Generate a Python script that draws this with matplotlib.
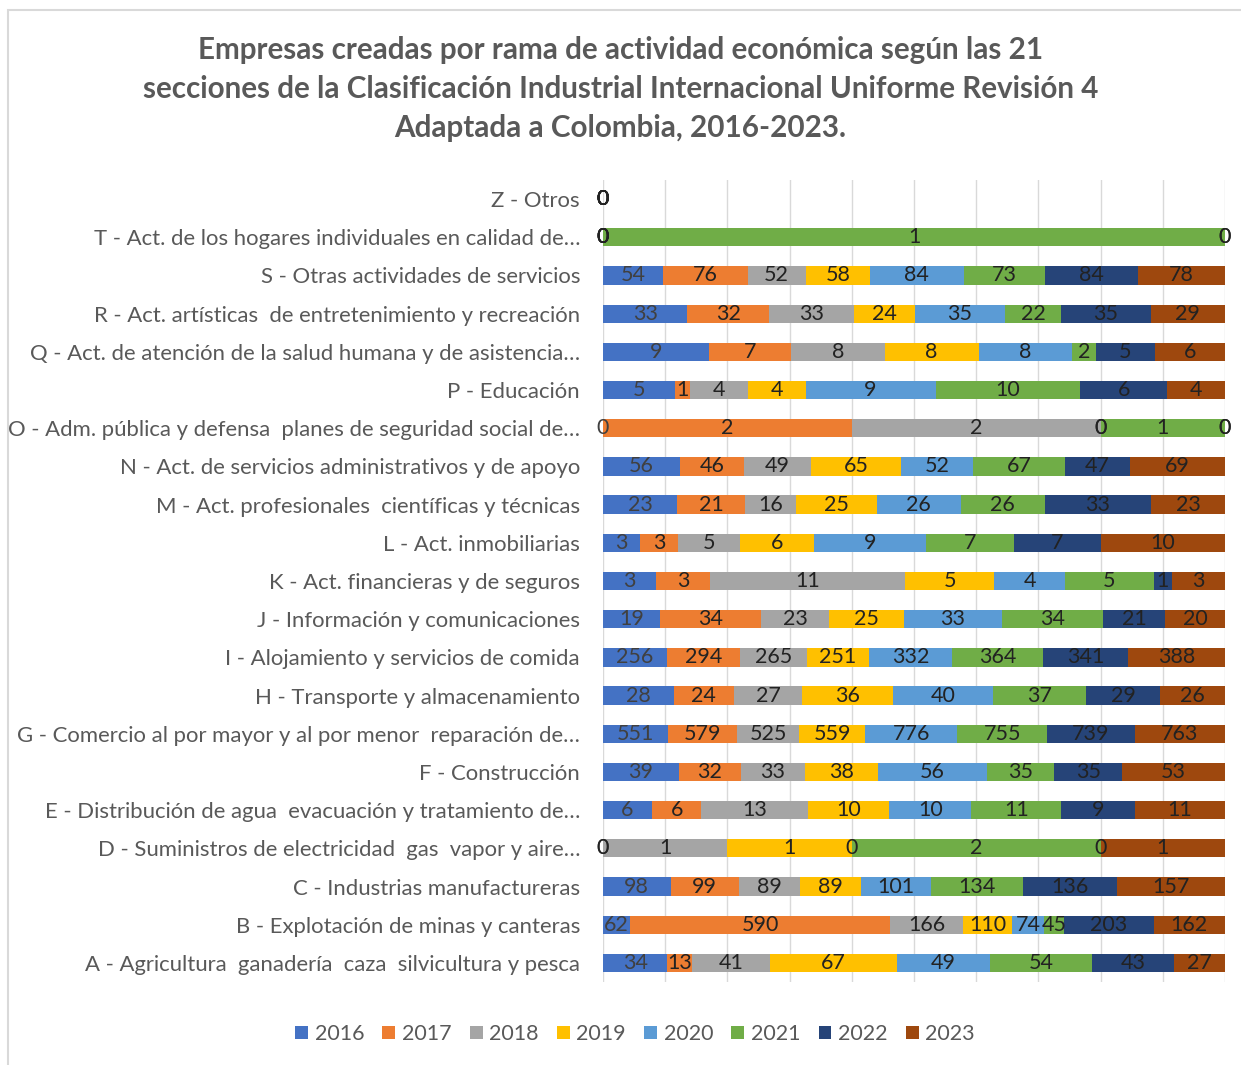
import numpy as np
import matplotlib
matplotlib.use("Agg")
import matplotlib.pyplot as plt
from matplotlib.patches import Rectangle

# categories, bottom (A) to top (Z)
categories = [
    "A - Agricultura  ganadería  caza  silvicultura y pesca",
    "B - Explotación de minas y canteras",
    "C - Industrias manufactureras",
    "D - Suministros de electricidad  gas  vapor y aire…",
    "E - Distribución de agua  evacuación y tratamiento de…",
    "F - Construcción",
    "G - Comercio al por mayor y al por menor  reparación de…",
    "H - Transporte y almacenamiento",
    "I - Alojamiento y servicios de comida",
    "J - Información y comunicaciones",
    "K - Act. financieras y de seguros",
    "L - Act. inmobiliarias",
    "M - Act. profesionales  científicas y técnicas",
    "N - Act. de servicios administrativos y de apoyo",
    "O - Adm. pública y defensa  planes de seguridad social de…",
    "P - Educación",
    "Q - Act. de atención de la salud humana y de asistencia…",
    "R - Act. artísticas  de entretenimiento y recreación",
    "S - Otras actividades de servicios",
    "T - Act. de los hogares individuales en calidad de…",
    "Z - Otros",
]

years = ["2016", "2017", "2018", "2019", "2020", "2021", "2022", "2023"]

v2016 = [34, 62, 98, 0, 6, 39, 551, 28, 256, 19, 3, 3, 23, 56, 0, 5, 9, 33, 54, 0, 0]
v2017 = [13, 590, 99, 0, 6, 32, 579, 24, 294, 34, 3, 3, 21, 46, 2, 1, 7, 32, 76, 0, 0]
v2018 = [41, 166, 89, 1, 13, 33, 525, 27, 265, 23, 11, 5, 16, 49, 2, 4, 8, 33, 52, 0, 0]
v2019 = [67, 110, 89, 1, 10, 38, 559, 36, 251, 25, 5, 6, 25, 65, 0, 4, 8, 24, 58, 0, 0]
v2020 = [49, 74, 101, 0, 10, 56, 776, 40, 332, 33, 4, 9, 26, 52, 0, 9, 8, 35, 84, 0, 0]
v2021 = [54, 45, 134, 2, 11, 35, 755, 37, 364, 34, 5, 7, 26, 67, 1, 10, 2, 22, 73, 1, 0]
v2022 = [43, 203, 136, 0, 9, 35, 739, 29, 341, 21, 1, 7, 33, 47, 0, 6, 5, 35, 84, 0, 0]
v2023 = [27, 162, 157, 1, 11, 53, 763, 26, 388, 20, 3, 10, 23, 69, 0, 4, 6, 29, 78, 0, 0]

colors = ["#4472C4", "#ED7D31", "#A5A5A5", "#FFC000",
          "#5B9BD5", "#70AD47", "#264478", "#9E480E"]

series = [v2016, v2017, v2018, v2019, v2020, v2021, v2022, v2023]
data = np.array(series, dtype=float)
totals = data.sum(axis=0)
safe = np.where(totals == 0, 1, totals)
pct = data / safe * 100

plt.rcParams['font.family'] = ['Lato', 'DejaVu Sans']

fig = plt.figure(figsize=(12.41, 10.65), dpi=100)
# outer chart frame
fig.patches.append(Rectangle((8 / 1241, -0.01), 1.02, 1 - 10 / 1065 + 0.01,
                             transform=fig.transFigure, fill=False,
                             edgecolor="#D9D9D9", linewidth=1.5))

ax = fig.add_axes([603 / 1241, 1 - 982 / 1065, 622 / 1241, 802 / 1065])

y = np.arange(len(categories))
left = np.zeros(len(categories))
for i, yr in enumerate(years):
    ax.barh(y, pct[i], left=left, height=0.48, color=colors[i], label=yr, zorder=2)
    for j in range(len(categories)):
        cx = left[j] + pct[i][j] / 2
        ax.text(cx, y[j], str(int(data[i][j])), ha="center", va="center",
                fontsize=15.5, color="#222222" if i else "#404040", zorder=3)
    left = left + pct[i]

ax.set_xlim(0, 100)
ax.set_ylim(-0.5, len(categories) - 0.5)
ax.set_xticks(np.arange(0, 101, 10))
ax.set_xticklabels([])
ax.tick_params(axis="x", length=0)
ax.tick_params(axis="y", length=0, pad=16.5)
ax.set_yticks(y)
ax.set_yticklabels(categories, fontsize=15.9, color="#595959")
ax.grid(axis="x", color="#D9D9D9", linewidth=1, zorder=0)
for s in ax.spines.values():
    s.set_visible(False)

fig.text(0.5, 1 - 89 / 1065,
         "Empresas creadas por rama de actividad económica según las 21\n"
         "secciones de la Clasificación Industrial Internacional Uniforme Revisión 4\n"
         "Adaptada a Colombia, 2016-2023.",
         ha="center", va="center", fontsize=21.3, fontweight="bold",
         color="#595959", linespacing=1.5)

fig.legend(loc="center", bbox_to_anchor=(635 / 1241, 1 - 1034 / 1065), ncol=8,
           frameon=False, fontsize=15.5, handlelength=0.6, handleheight=0.6,
           handletextpad=0.3, columnspacing=0.85, labelcolor="#595959")

fig.savefig("out.png", dpi=100)
